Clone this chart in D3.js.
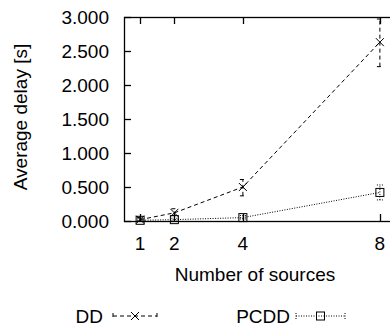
<!DOCTYPE html>
<html>
<head>
<meta charset="utf-8">
<script src="https://cdn.jsdelivr.net/npm/d3@7"></script>
<style>
  html, body { margin: 0; padding: 0; background: #fff; }
  svg { display: block; font-family: "Liberation Sans", Arial, sans-serif; }
</style>
</head>
<body>
<div id="chart"></div>
<script>
// chart values
const sources = [1, 2, 4, 8];
const ddMean = [0.02, 0.12, 0.50, 2.63];
const ddLow = [0.00, 0.08, 0.37, 2.27];
const ddHigh = [0.05, 0.18, 0.61, 2.97];
const pcddMean = [0.01, 0.02, 0.05, 0.42];
const pcddLow = [0.00, 0.00, 0.03, 0.31];
const pcddHigh = [0.03, 0.04, 0.08, 0.53];
const yTicks = [0, 0.5, 1, 1.5, 2, 2.5, 3];
const xTicks = [1, 2, 4, 8];

const width = 390, height = 329;
const frame = { left: 124, right: 397, top: 17, bottom: 221 };
const fontSize = 19;

/** Scales */
const xScale = d3.scaleLinear().domain([0.5, 8.5]).range([frame.left - 1, frame.right]);
const yScale = d3.scaleLinear().domain([0, 3]).range([frame.bottom, frame.top]);

const svg = d3.select("#chart")
  .append("svg")
  .attr("width", width)
  .attr("height", height)
;

/** Frame and mirrored inward ticks */
svg.append("rect")
  .attr("x", frame.left + 0.5)
  .attr("y", frame.top + 0.5)
  .attr("width", frame.right - frame.left)
  .attr("height", frame.bottom - frame.top)
  .attr("fill", "none")
  .attr("stroke", "#000")
  .attr("stroke-width", 1.3)
;

const tickLen = 7;
const ticks = svg.append("g").attr("stroke", "#000").attr("stroke-width", 1.3);
yTicks.forEach(v => {
  const y = Math.round(yScale(v)) + 0.5;
  ticks.append("line").attr("x1", frame.left).attr("x2", frame.left + tickLen).attr("y1", y).attr("y2", y);
  ticks.append("line").attr("x1", frame.right).attr("x2", frame.right - tickLen).attr("y1", y).attr("y2", y);
});
xTicks.forEach(v => {
  const x = Math.round(xScale(v)) + 0.5;
  ticks.append("line").attr("x1", x).attr("x2", x).attr("y1", frame.bottom).attr("y2", frame.bottom - tickLen);
  ticks.append("line").attr("x1", x).attr("x2", x).attr("y1", frame.top).attr("y2", frame.top + tickLen);
});

/** Tick labels */
svg.append("g")
  .attr("font-size", fontSize)
  .attr("text-anchor", "end")
  .selectAll("text")
  .data(yTicks)
  .enter()
  .append("text")
  .attr("x", frame.left - 15)
  .attr("y", d => yScale(d))
  .attr("dy", "0.36em")
  .text(d => d3.format(".3f")(d))
;

svg.append("g")
  .attr("font-size", fontSize)
  .attr("text-anchor", "middle")
  .selectAll("text")
  .data(xTicks)
  .enter()
  .append("text")
  .attr("x", d => xScale(d))
  .attr("y", frame.bottom + 29)
  .text(d => d)
;

/** Axis titles */
svg.append("text")
  .attr("transform", "translate(27,117) rotate(-90)")
  .attr("text-anchor", "middle")
  .attr("font-size", fontSize)
  .text("Average delay [s]")
;

svg.append("text")
  .attr("x", 255)
  .attr("y", 281)
  .attr("text-anchor", "middle")
  .attr("font-size", fontSize)
  .text("Number of sources")
;

/** Series */
const series = [
  { name: "DD", mean: ddMean, low: ddLow, high: ddHigh, dash: "4,3", marker: "cross",
    legendText: 103, sampleFrom: 113, sampleTo: 157 },
  { name: "PCDD", mean: pcddMean, low: pcddLow, high: pcddHigh, dash: "1,1.5", marker: "square",
    legendText: 290, sampleFrom: 296, sampleTo: 345 }
];

const plot = svg.append("g");
const markerSize = 4;
const capHalf = 3;

function drawMarker(g, type, x, y) {
  if (type === "cross") {
    g.append("path")
      .attr("d", `M${x - markerSize},${y - markerSize}L${x + markerSize},${y + markerSize}M${x - markerSize},${y + markerSize}L${x + markerSize},${y - markerSize}`)
      .attr("stroke", "#000").attr("stroke-width", 1).attr("fill", "none");
  } else {
    g.append("rect")
      .attr("x", x - markerSize).attr("y", y - markerSize)
      .attr("width", markerSize * 2).attr("height", markerSize * 2)
      .attr("stroke", "#000").attr("stroke-width", 1).attr("fill", "none");
  }
}

series.forEach(s => {
  const pts = sources.map((x, i) => ({ x: x, y: s.mean[i], lo: s.low[i], hi: s.high[i] }));

  plot.append("path")
    .datum(pts)
    .attr("d", d3.line().x(d => xScale(d.x)).y(d => yScale(d.y)))
    .attr("fill", "none")
    .attr("stroke", "#000")
    .attr("stroke-width", 1)
    .attr("stroke-dasharray", s.dash)
  ;

  pts.forEach(p => {
    const x = xScale(p.x);
    const g = plot.append("g");
    g.append("path")
      .attr("d", `M${x},${yScale(p.lo)}V${yScale(p.hi)}M${x - capHalf},${yScale(p.lo)}H${x + capHalf}M${x - capHalf},${yScale(p.hi)}H${x + capHalf}`)
      .attr("fill", "none").attr("stroke", "#000").attr("stroke-width", 1)
      .attr("stroke-dasharray", s.dash);
    drawMarker(g, s.marker, x, yScale(p.y));
  });

  /** Legend entry */
  const ly = 316;
  svg.append("text")
    .attr("x", s.legendText)
    .attr("y", ly + 7)
    .attr("text-anchor", "end")
    .attr("font-size", fontSize)
    .text(s.name)
  ;
  const lg = svg.append("g");
  lg.append("path")
    .attr("d", `M${s.sampleFrom},${ly}H${s.sampleTo}M${s.sampleFrom},${ly - 3}V${ly + 3}M${s.sampleTo},${ly - 3}V${ly + 3}`)
    .attr("fill", "none").attr("stroke", "#000").attr("stroke-width", 1)
    .attr("stroke-dasharray", s.dash);
  drawMarker(lg, s.marker, (s.sampleFrom + s.sampleTo) / 2, ly);
});
</script>
</body>
</html>
